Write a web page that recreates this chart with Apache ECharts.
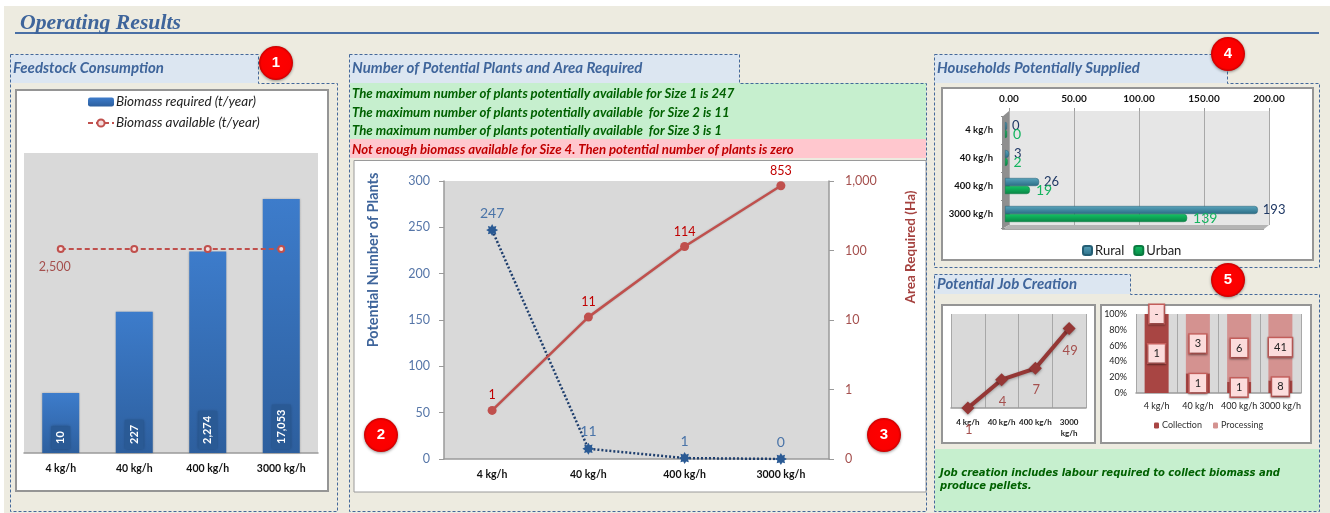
<!DOCTYPE html>
<html>
<head>
<meta charset="utf-8">
<style>html,body{margin:0;padding:0;background:#fff}#c{width:1330px;height:513px}</style>
<script src="https://cdn.jsdelivr.net/npm/echarts@6/dist/echarts.min.js"></script>
</head>
<body>
<div id="c"></div>
<script>
const sizes = ['4 kg/h', '40 kg/h', '400 kg/h', '3000 kg/h'];
const biomassRequired = [10, 227, 2274, 17053];
const biomassAvailable = [2500, 2500, 2500, 2500];
const plantCounts = [247, 11, 1, 0];
const areaRequired = [0.5, 11, 114, 853];
const householdsRural = [0, 3, 26, 193];
const householdsUrban = [0, 2, 19, 139];
const jobsTotal = [1, 4, 7, 49];
const collectionShare = [100, 25, 14, 16];
const processingShare = [0, 75, 86, 84];
const collectionJobs = ['1', '1', '1', '8'];
const processingJobs = ['-', '3', '6', '41'];
const plantMessages = [
  'The maximum number of plants potentially available for Size 1 is 247',
  'The maximum number of plants potentially available  for Size 2 is 11',
  'The maximum number of plants potentially available  for Size 3 is 1'
];
const shortageMessage = 'Not enough biomass available for Size 4. Then potential number of plants is zero';
const jobNote = ['Job creation includes labour required to collect biomass and', 'produce pellets.'];

const LATO = 'Lato';
const BLUE = '#3F659B', DASH = '#44689A', PLOT = '#D9D9D9', RED = '#C0504D';

function rect(x, y, w, h, fill, stroke, lw, z) {
  return { type: 'rect', silent: true, z: z === undefined ? -5 : z, shape: { x, y, width: w, height: h },
    style: { fill, stroke: stroke || null, lineWidth: lw || 0 } };
}
function poly(points, fill, stroke, dash, z) {
  return { type: 'polygon', silent: true, z: z === undefined ? -4 : z, shape: { points },
    style: { fill: fill || 'none', stroke: stroke || null, lineWidth: 1, lineDash: dash || null } };
}
function text(x, y, t, font, fill, opt) {
  return { type: 'text', silent: true, z: 20, style: Object.assign({ x, y, text: t, font, fill, align: 'left', verticalAlign: 'middle' }, opt || {}) };
}
function vertical(x, y, t, font, fill) {
  return { type: 'text', silent: true, z: 20, x, y, rotation: Math.PI / 2,
    style: { x: 0, y: 0, text: t, font, fill, align: 'center', verticalAlign: 'middle' } };
}
function badge(x, y, n) {
  return [
    { type: 'circle', silent: true, z: 30, shape: { cx: x, cy: y, r: 17 },
      style: { fill: { type: 'radial', x: .5, y: .5, r: .5, colorStops: [{ offset: 0, color: '#FF0000' }, { offset: .85, color: '#FA0000' }, { offset: 1, color: '#C80000' }] },
        shadowBlur: 3, shadowColor: 'rgba(0,0,0,.4)', shadowOffsetY: 1 } },
    { type: 'text', silent: true, z: 31, style: { x, y, text: n, font: 'bold 15px "Liberation Sans"', fill: '#fff', align: 'center', verticalAlign: 'middle' } }
  ];
}
const titleFont = 'italic bold 15px Lato';
const msgFont = 'italic bold 13.2px Lato';
const noteFont = 'italic bold 10px "DejaVu Sans"';
const graphics = [
  rect(4, 6, 1326, 507, '#EDEBE0', null, 0, -10),
  text(20, 23, 'Operating Results', 'italic bold 21.7px "Liberation Serif"', BLUE, { shadowBlur: 1, shadowColor: 'rgba(0,0,0,.25)', shadowOffsetX: 1, shadowOffsetY: 1 }),
  rect(15, 32, 1304, 2, '#4A6FA5', null, 0, -4),

  rect(10.5, 54.5, 247.5, 28.5, '#DCE6F1'),
  poly([[10.5, 54.5], [258.5, 54.5], [258.5, 83.5], [337.5, 83.5], [337.5, 511.5], [10.5, 511.5]], null, DASH, [3, 2]),
  text(13, 68, 'Feedstock Consumption', titleFont, BLUE),
  rect(16, 90, 312, 401, '#fff', '#959595', 2),

  rect(349.5, 54.5, 389.5, 28.5, '#DCE6F1'),
  rect(350, 83, 576, 56, '#C6EFCE'),
  rect(350, 139, 576, 19, '#FFC7CE'),
  poly([[349.5, 54.5], [739.5, 54.5], [739.5, 83.5], [926.5, 83.5], [926.5, 511.5], [349.5, 511.5]], null, DASH, [3, 2]),
  text(352, 68, 'Number of Potential Plants and Area Required', titleFont, BLUE),
  text(352, 94, plantMessages[0], msgFont, '#006100'),
  text(352, 113, plantMessages[1], msgFont, '#006100'),
  text(352, 131, plantMessages[2], msgFont, '#006100'),
  text(352, 150, shortageMessage, msgFont, '#C00000'),
  rect(354, 160.5, 572, 331.5, '#fff', '#9A9A9A', 1),
  vertical(373, 260, 'Potential Number of Plants', 'bold 14.5px Lato', BLUE),
  vertical(911, 247, 'Area Required (Ha)', 'bold 13.5px Lato', '#A5423F'),

  rect(934.5, 54.5, 292.5, 28.5, '#DCE6F1'),
  poly([[934.5, 54.5], [1227.5, 54.5], [1227.5, 83.5], [1319.5, 83.5], [1319.5, 267.5], [934.5, 267.5]], null, DASH, [3, 2]),
  text(937, 68, 'Households Potentially Supplied', titleFont, BLUE),
  rect(942, 88, 371, 172, '#fff', '#959595', 2),
  poly([[1002, 117], [1009, 111], [1009, 225], [1002, 229]], '#8F8F8F', null, null, -3),
  poly([[1002, 229], [1009, 225], [1269, 225], [1264, 229]], '#B4B4B4', null, null, -3),
  rect(1002, 229, 262, 1, '#A5A5A5', null, 0, -3),

  rect(934.5, 274.5, 195.5, 19.5, '#DCE6F1'),
  rect(935, 449, 384, 62, '#C6EFCE'),
  poly([[934.5, 274.5], [1130.5, 274.5], [1130.5, 294.5], [1319.5, 294.5], [1319.5, 511.5], [934.5, 511.5]], null, DASH, [3, 2]),
  text(937, 284, 'Potential Job Creation', titleFont, BLUE),
  rect(942, 305, 153, 138, '#fff', '#959595', 2),
  rect(1101, 305, 210, 138, '#fff', '#959595', 2),
  text(940, 473, jobNote[0], noteFont, '#006100'),
  text(940, 486, jobNote[1], noteFont, '#006100')
].concat(badge(276, 63, '1'), badge(381, 435, '2'), badge(884, 435, '3'), badge(1228, 54, '4'), badge(1228, 280, '5'));

const catLabel = (size, margin) => ({ color: '#111', fontWeight: 'bold', fontSize: size, fontFamily: LATO, margin, interval: 0 });
const grayLine = { lineStyle: { color: '#9A9A9A', width: 1.5 } };

const option = {
  animation: false,
  textStyle: { fontFamily: LATO },
  graphic: { elements: graphics },
  legend: [
    { data: ['Biomass required (t/year)', 'Biomass available (t/year)'], orient: 'vertical', left: 87, top: 95, padding: 0, itemWidth: 26, itemHeight: 9, itemGap: 7,
      textStyle: { fontStyle: 'italic', fontSize: 13.5, color: '#222', fontFamily: LATO, padding: [0, 0, 0, -3] } },
    { data: ['Rural', 'Urban'], left: 1082, top: 244, padding: 0, itemWidth: 9, itemHeight: 9, itemGap: 9,
      textStyle: { fontSize: 13, color: '#222', fontFamily: LATO, padding: [0, 0, 0, -2] } },
    { data: ['Collection', 'Processing'], left: 1154, top: 421, padding: 0, itemWidth: 5, itemHeight: 6, itemGap: 11,
      textStyle: { fontSize: 9, color: '#333', fontFamily: LATO, padding: [0, 0, 0, -2] } }
  ],
  grid: [
    { left: 24, top: 153, width: 294, height: 300, show: true, backgroundColor: PLOT, borderWidth: 0 },
    { left: 444, top: 181, width: 385, height: 278, show: true, backgroundColor: PLOT, borderWidth: 0 },
    { left: 1009, top: 111, width: 260, height: 114, show: true, backgroundColor: '#E6E6E6', borderWidth: 0 },
    { left: 1005, top: 116, width: 262, height: 112 },
    { left: 951, top: 314, width: 135, height: 94, show: true, backgroundColor: PLOT, borderWidth: 0 },
    { left: 1136, top: 314, width: 165, height: 79, show: true, backgroundColor: PLOT, borderWidth: 0 }
  ],
  xAxis: [
    { gridIndex: 0, type: 'category', data: sizes, axisLine: grayLine, axisTick: { show: false }, axisLabel: catLabel(10.5, 10) },
    { gridIndex: 1, type: 'category', data: sizes, axisLine: grayLine, axisTick: { show: false }, axisLabel: catLabel(10.5, 10) },
    { gridIndex: 2, type: 'value', position: 'top', min: 0, max: 200, interval: 50, axisLine: { show: false },
      axisTick: { show: true, length: 3, lineStyle: { color: '#9A9A9A' } },
      axisLabel: { color: '#111', fontWeight: 'bold', fontSize: 10, fontFamily: LATO, margin: 7, formatter: v => v.toFixed(2) },
      splitLine: { show: true, lineStyle: { color: '#A8A8A8', width: 1 } } },
    { gridIndex: 3, type: 'value', min: 0, max: 200, show: false },
    { gridIndex: 4, type: 'category', data: sizes, axisLine: grayLine, axisTick: { show: false },
      axisLabel: { color: '#222', fontWeight: 'bold', fontSize: 8, fontFamily: LATO, margin: 9, interval: 0, lineHeight: 11,
        formatter: v => v === sizes[3] ? v.replace(' ', '\n') : v },
      splitLine: { show: true, lineStyle: { color: '#A8A8A8', width: 1 } } },
    { gridIndex: 5, type: 'category', data: sizes, axisLine: grayLine, axisTick: { show: false },
      axisLabel: { color: '#222', fontSize: 9, fontFamily: LATO, margin: 9, interval: 0 },
      splitLine: { show: true, lineStyle: { color: '#A8A8A8', width: 1 } } }
  ],
  yAxis: [
    { gridIndex: 0, type: 'log', logBase: 10, min: 1, max: 100000, show: false },
    { gridIndex: 1, type: 'value', min: 0, max: 300, interval: 50, splitLine: { show: false }, axisLine: { show: true, lineStyle: { color: '#9A9A9A', width: 1.5 } },
      axisTick: { show: true, length: 5, lineStyle: { color: '#9A9A9A' } }, axisLabel: { color: '#5676A8', fontSize: 12.5, fontFamily: LATO, margin: 14 } },
    { gridIndex: 1, type: 'log', logBase: 10, min: 0.1, max: 1000, position: 'right', splitLine: { show: false }, minorTick: { show: false }, axisLine: { show: true, lineStyle: { color: '#9A9A9A', width: 1.5 } },
      axisTick: { show: true, length: 5, lineStyle: { color: '#9A9A9A' } },
      axisLabel: { color: '#A5504E', fontSize: 12.5, fontFamily: LATO, margin: 16, formatter: v => v < 1 ? '0' : Math.round(v).toLocaleString('en-US') } },
    { gridIndex: 2, type: 'category', data: sizes, show: false },
    { gridIndex: 3, type: 'category', data: sizes, inverse: true, axisLine: { show: true, lineStyle: { color: '#8F8F8F', width: 0 } },
      axisTick: { show: true, length: 4, lineStyle: { color: '#8F8F8F' } },
      axisLabel: { color: '#111', fontWeight: 'bold', fontSize: 9.5, fontFamily: LATO, margin: 12 } },
    { gridIndex: 4, type: 'log', logBase: 10, min: 1, max: 100, show: false },
    { gridIndex: 5, type: 'value', min: 0, max: 100, interval: 20, splitLine: { show: false }, axisLine: { show: false }, axisTick: { show: false },
      axisLabel: { color: '#222', fontSize: 9, fontFamily: LATO, margin: 9, formatter: '{value}%' } }
  ],
  series: [
    { name: 'Biomass required (t/year)', type: 'bar', xAxisIndex: 0, yAxisIndex: 0, data: biomassRequired, barWidth: 37,
      itemStyle: { color: { type: 'linear', x: 0, y: 0, x2: 0, y2: 1, colorStops: [{ offset: 0, color: '#3D7CCB' }, { offset: 1, color: '#2D5F9E' }] }, shadowBlur: 2, shadowColor: 'rgba(0,0,0,.25)' },
      label: { show: true, position: 'insideBottom', rotate: 90, align: 'left', verticalAlign: 'middle', distance: 4, color: '#fff', fontWeight: 'bold', fontSize: 11, fontFamily: LATO,
        backgroundColor: '#2A5A95', padding: [4, 5], shadowBlur: 3, shadowColor: 'rgba(0,0,0,.3)', formatter: p => p.value.toLocaleString('en-US') } },
    { name: 'Biomass available (t/year)', type: 'line', xAxisIndex: 0, yAxisIndex: 0, data: biomassAvailable, symbol: 'circle', symbolSize: 6,
      lineStyle: { color: RED, width: 2, type: [5, 3] }, itemStyle: { color: '#F5DEDD', borderColor: RED, borderWidth: 2 },
      label: { show: true, position: 'bottom', distance: 7, offset: [-6, 0], color: '#A5504E', fontSize: 12.5, fontFamily: LATO,
        formatter: p => p.dataIndex === 0 ? p.value.toLocaleString('en-US') : '' } },
    { name: 'Potential plants', type: 'line', xAxisIndex: 1, yAxisIndex: 1, data: plantCounts,
      symbol: 'path://M50 0L62 21L85 15L79 38L100 50L79 62L85 85L62 79L50 100L38 79L15 85L21 62L0 50L21 38L15 15L38 21Z', symbolSize: 12,
      lineStyle: { color: '#1F3F6E', width: 2.5, type: [2, 2] }, itemStyle: { color: '#2A5A94' },
      label: { show: true, position: 'top', distance: 4, color: '#4A74A8', fontSize: 14, fontFamily: LATO } },
    { name: 'Area required', type: 'line', xAxisIndex: 1, yAxisIndex: 2, data: areaRequired, symbol: 'circle', symbolSize: 9,
      lineStyle: { color: RED, width: 2.5, shadowBlur: 2, shadowColor: 'rgba(0,0,0,.2)' }, itemStyle: { color: '#C0504D' },
      label: { show: true, position: 'top', distance: 4, color: '#C00000', fontSize: 12.5, fontFamily: LATO, formatter: p => String(Math.round(p.value)) } },
    { name: 'wall', type: 'bar', xAxisIndex: 2, yAxisIndex: 3, data: [], silent: true },
    { name: 'Rural', type: 'bar', xAxisIndex: 3, yAxisIndex: 4, data: householdsRural, barWidth: 8, barGap: 0, barMinHeight: 2,
      itemStyle: { color: { type: 'linear', x: 0, y: 0, x2: 0, y2: 1, colorStops: [{ offset: 0, color: '#5AA5BD' }, { offset: 1, color: '#2A6C85' }] }, borderRadius: [0, 3, 3, 0], borderColor: '#245E74', borderWidth: .5 },
      label: { show: true, position: 'right', distance: 5, color: '#1F3864', fontSize: 13, fontFamily: LATO } },
    { name: 'Urban', type: 'bar', xAxisIndex: 3, yAxisIndex: 4, data: householdsUrban, barWidth: 8, barMinHeight: 2,
      itemStyle: { color: { type: 'linear', x: 0, y: 0, x2: 0, y2: 1, colorStops: [{ offset: 0, color: '#12C465' }, { offset: 1, color: '#0A8445' }] }, borderRadius: [0, 3, 3, 0], borderColor: '#0A7A40', borderWidth: .5 },
      label: { show: true, position: 'right', distance: 6, color: '#14B45F', fontSize: 14, fontFamily: LATO } },
    { name: 'Jobs', type: 'line', xAxisIndex: 4, yAxisIndex: 5, data: jobsTotal, symbol: 'diamond', symbolSize: 13,
      lineStyle: { color: '#953735', width: 4, shadowBlur: 3, shadowColor: 'rgba(0,0,0,.3)', shadowOffsetY: 1 }, itemStyle: { color: '#953735', shadowBlur: 3, shadowColor: 'rgba(0,0,0,.4)', shadowOffsetY: 1 },
      label: { show: true, position: 'bottom', distance: 9, offset: [1, 0], color: '#A5504E', fontSize: 13, fontFamily: LATO } },
    { name: 'Collection', type: 'bar', stack: 'share', xAxisIndex: 5, yAxisIndex: 6, data: collectionShare, barWidth: 24,
      itemStyle: { color: '#A84543' }, label: boxLabel(collectionJobs) },
    { name: 'Processing', type: 'bar', stack: 'share', xAxisIndex: 5, yAxisIndex: 6, data: processingShare, barWidth: 24,
      itemStyle: { color: '#D49290' }, label: boxLabel(processingJobs) }
  ]
};
function boxLabel(arr) {
  return { show: true, position: 'inside', color: '#222', fontSize: 11, fontFamily: LATO, lineHeight: 12,
    backgroundColor: '#FCDCDC', borderColor: '#C8605D', borderWidth: 1.5, padding: [3, 5], shadowBlur: 2, shadowColor: 'rgba(0,0,0,.35)', shadowOffsetY: 1,
    formatter: p => arr[p.dataIndex] };
}
echarts.init(document.getElementById('c')).setOption(option);
</script>
</body>
</html>
